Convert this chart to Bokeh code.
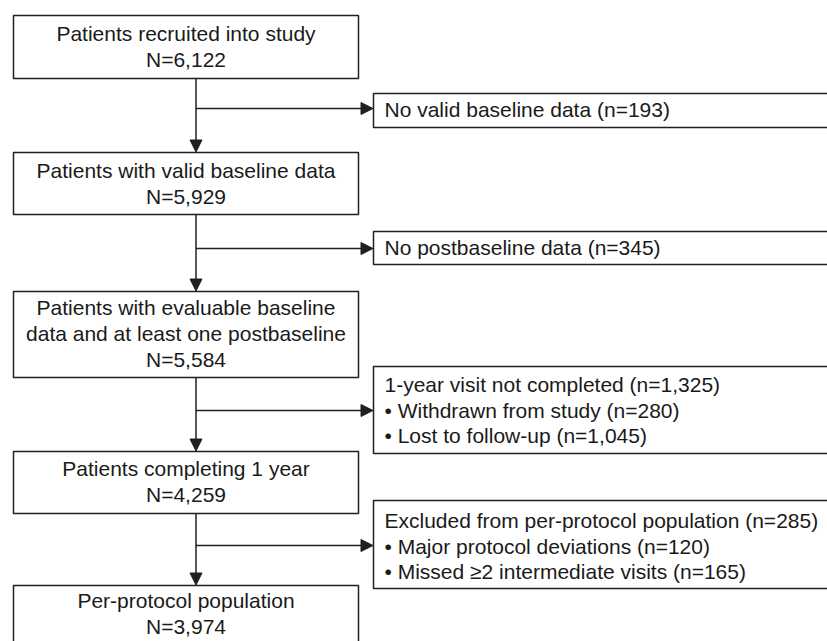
from bokeh.plotting import figure
from bokeh.models import Range1d, Arrow, NormalHead
from bokeh.core.properties import value
from bokeh.embed import file_html
from bokeh.resources import INLINE

# ---- data ----
stage_labels = [
    ["Patients recruited into study"],
    ["Patients with valid baseline data"],
    ["Patients with evaluable baseline", "data and at least one postbaseline"],
    ["Patients completing 1 year"],
    ["Per-protocol population"],
]
stage_counts = [6122, 5929, 5584, 4259, 3974]

excl_labels = [
    "No valid baseline data",
    "No postbaseline data",
    "1-year visit not completed",
    "Excluded from per-protocol population",
]
excl_counts = [193, 345, 1325, 285]
excl_sub_labels = [[], [], ["Withdrawn from study", "Lost to follow-up"],
                   ["Major protocol deviations", "Missed \u22652 intermediate visits"]]
excl_sub_counts = [[], [], [280, 1045], [120, 165]]

# ---- layout (screen-pixel coordinates) ----
FONT = value("Liberation Sans")
FS = "21px"
INK = "#231f20"
TXT = "#1a1a1a"
LW = 1.5
DY = -7  # baseline correction

W, H = 827, 641

box_left, box_right = 13, 358
conn_x = 195.5
box_top = [15, 152, 291, 451, 585]
box_bot = [78, 214, 377, 513, 660]
text_first = [40, 177, 314, 475, 607]
line_gap = 26

rbox_left, rbox_right = 373, 900
rbox_top = [93, 231, 366, 500]
rbox_bot = [127, 264, 453, 588]
branch_y = [108, 248, 410, 545]
rtext_x = 384
rtext_first = [116, 254, 391, 527]
rline_gap = 25.5

p = figure(width=W, height=H, x_range=Range1d(0, W), y_range=Range1d(H, 0),
           output_backend="svg", toolbar_location=None, min_border=0,
           background_fill_color="white", border_fill_color="white")
p.axis.visible = False
p.grid.visible = False
p.outline_line_color = None

# main boxes
p.quad(left=[box_left] * len(stage_counts), right=[box_right] * len(stage_counts),
       top=box_top, bottom=box_bot, fill_color="white", line_color=INK, line_width=LW)

# exclusion boxes
p.quad(left=[rbox_left] * len(excl_counts), right=[rbox_right] * len(excl_counts),
       top=rbox_top, bottom=rbox_bot, fill_color="white", line_color=INK, line_width=LW)

# main texts
tx, ty, tt = [], [], []
for i, (lines, n) in enumerate(zip(stage_labels, stage_counts)):
    all_lines = lines + [f"N={n:,}"]
    for j, s in enumerate(all_lines):
        tx.append((box_left + box_right) / 2)
        ty.append(text_first[i] + j * line_gap + DY)
        tt.append(s)
p.text(x=tx, y=ty, text=tt, text_align="center", text_baseline="alphabetic",
       text_font=FONT, text_font_size=FS, text_color=TXT)

# exclusion texts
rx, ry, rt = [], [], []
for i, (lab, n) in enumerate(zip(excl_labels, excl_counts)):
    all_lines = [f"{lab} (n={n:,})"] + [f"\u2022 {s} (n={c:,})" for s, c in
                                         zip(excl_sub_labels[i], excl_sub_counts[i])]
    for j, s in enumerate(all_lines):
        rx.append(rtext_x)
        ry.append(rtext_first[i] + j * rline_gap + DY)
        rt.append(s)
p.text(x=rx, y=ry, text=rt, text_align="left", text_baseline="alphabetic",
       text_font=FONT, text_font_size=FS, text_color=TXT)

# vertical arrows
for i in range(len(stage_counts) - 1):
    p.add_layout(Arrow(end=NormalHead(size=12, fill_color=INK, line_color=INK, line_width=1),
                       x_start=conn_x, y_start=box_bot[i], x_end=conn_x, y_end=box_top[i + 1] - 0.5,
                       line_color=INK, line_width=LW))
# branch arrows
for i in range(len(excl_counts)):
    p.add_layout(Arrow(end=NormalHead(size=12, fill_color=INK, line_color=INK, line_width=1),
                       x_start=conn_x, y_start=branch_y[i], x_end=rbox_left - 0.5, y_end=branch_y[i],
                       line_color=INK, line_width=LW))

open("out.html", "w").write(file_html(p, INLINE))
